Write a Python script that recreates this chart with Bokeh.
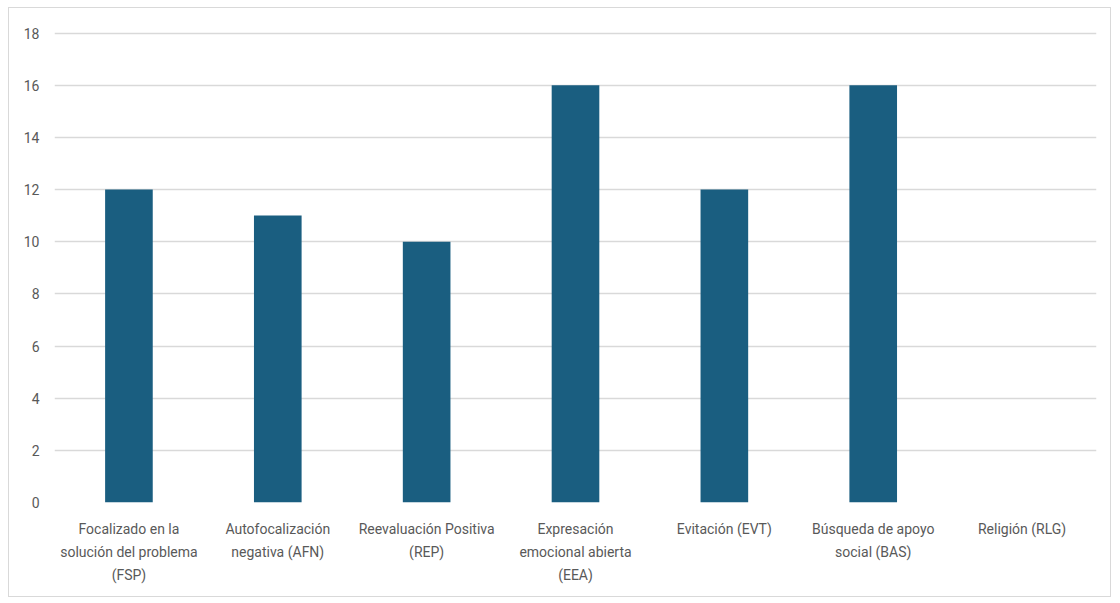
from bokeh.plotting import figure
from bokeh.models import ColumnDataSource, Range1d, FixedTicker
from bokeh.embed import file_html
from bokeh.resources import INLINE

codes = ["FSP", "AFN", "REP", "EEA", "EVT", "BAS", "RLG"]
tick_labels = [
    "Focalizado en la\nsolución del problema\n(FSP)",
    "Autofocalización\nnegativa (AFN)",
    "Reevaluación Positiva\n(REP)",
    "Expresación\nemocional abierta\n(EEA)",
    "Evitación (EVT)",
    "Búsqueda de apoyo\nsocial (BAS)",
    "Religión (RLG)",
]
values = [12, 11, 10, 16, 12, 16, 0]
y_ticks = [0, 2, 4, 6, 8, 10, 12, 14, 16, 18]

source = ColumnDataSource(data=dict(cat=tick_labels, code=codes, val=values))

p = figure(
    x_range=tick_labels,
    y_range=Range1d(0, 18.06),
    width=1103,
    height=590,
    output_backend="svg",
    toolbar_location=None,
    min_border_left=45,
    min_border_right=16,
    min_border_top=23,
    min_border_bottom=96,
)
p.styles = {"margin-left": "8px", "margin-top": "7px", "border": "1px solid #d9d9d9"}

p.vbar(x="cat", top="val", width=0.32, source=source,
       fill_color="#1a5e80", line_color=None)

p.outline_line_color = None
p.xgrid.grid_line_color = None
p.ygrid.grid_line_color = "#d9d9d9"
p.ygrid.grid_line_width = 1.5

p.yaxis.ticker = FixedTicker(ticks=y_ticks)
p.yaxis.axis_line_color = None
p.yaxis.major_tick_line_color = None
p.yaxis.minor_tick_line_color = None
p.yaxis.major_label_standoff = 9
p.yaxis.major_label_text_font = "Roboto"
p.yaxis.major_label_text_font_size = "14px"
p.yaxis.major_label_text_color = "#595959"

p.xaxis.axis_line_color = None
p.xaxis.major_tick_line_color = None
p.xaxis.minor_tick_line_color = None
p.xaxis.major_label_standoff = 12
p.xaxis.major_label_text_font = "Roboto"
p.xaxis.major_label_text_font_size = "14px"
p.xaxis.major_label_text_color = "#595959"
p.xaxis.major_label_text_line_height = 1.45

open("out.html", "w").write(file_html(p, INLINE))
